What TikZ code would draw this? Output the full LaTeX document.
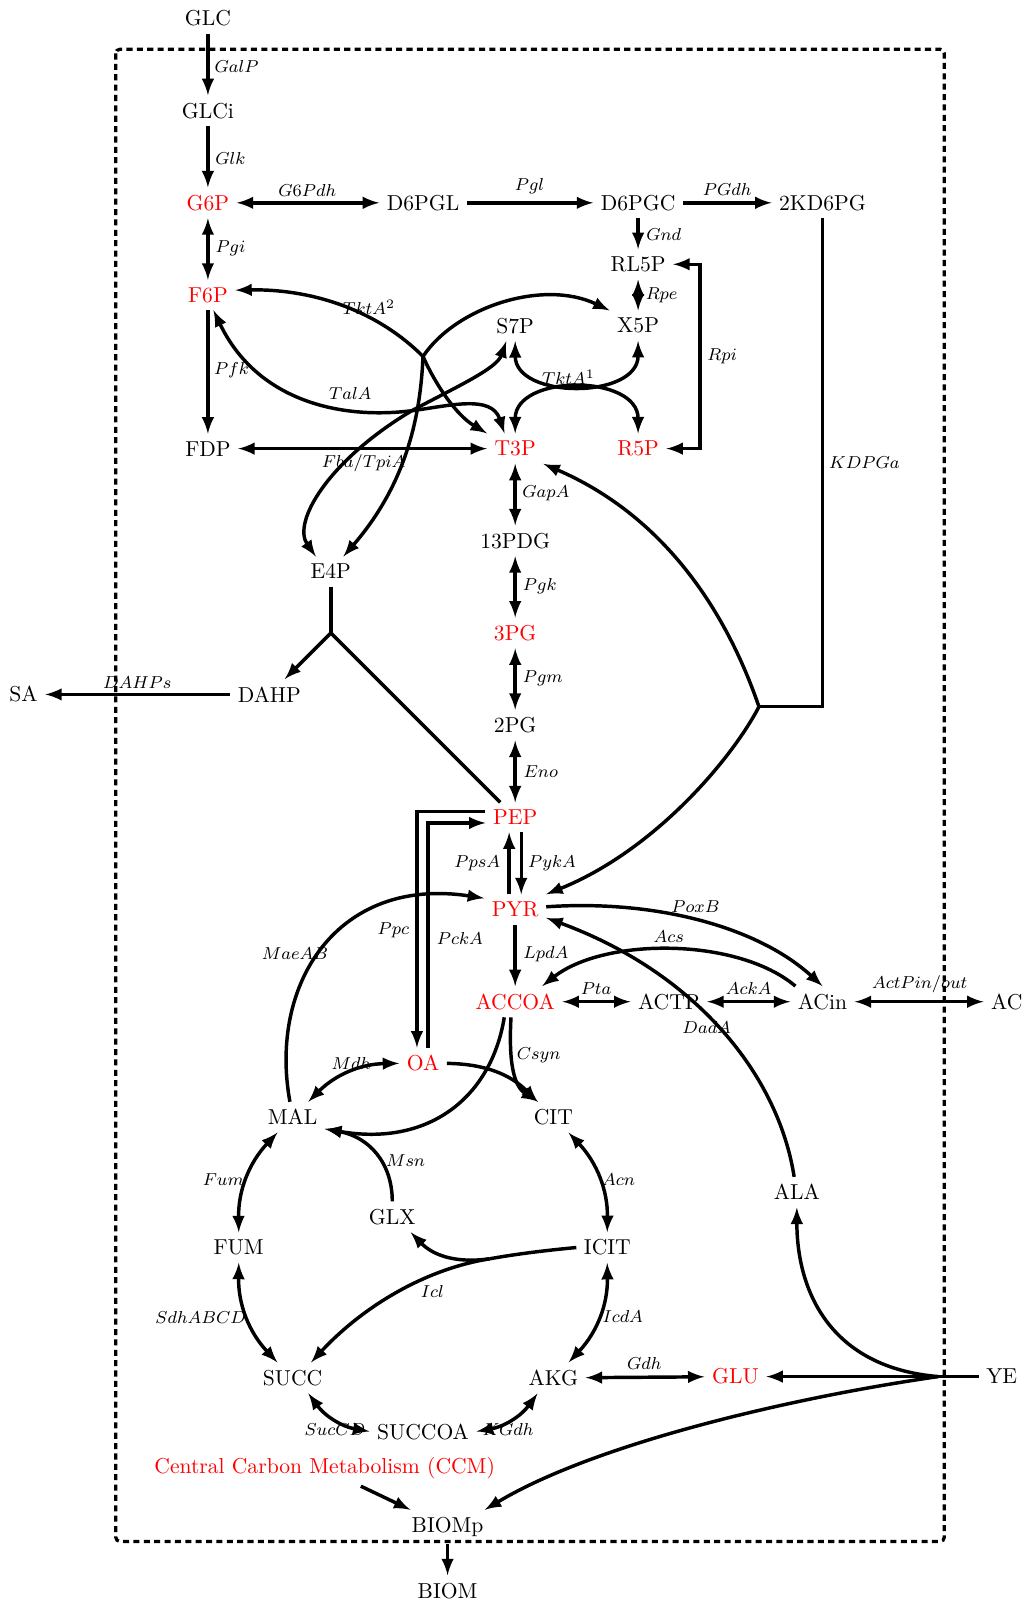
\documentclass[tikz,border=0pt]{standalone}
\usetikzlibrary{calc}
\begin{document}
\begin{tikzpicture}[x=0.0166667cm, y=-0.0166667cm,
  met/.style={inner sep=0.3333em, font=\normalsize},
  redmet/.style={met, text=red},
  lab/.style={font=\footnotesize, inner sep=1pt},
  con/.style={line width=1.6pt},
  arr/.style={con, -latex},
  dbl/.style={con, latex-latex},
  ccmbox/.style={line width=1.5pt, dash pattern=on 2.8pt off 2pt, rounded corners=2pt}]
\useasboundingbox (0,0) rectangle (1000,1568);

% ---------------- metabolites ----------------
\node[met] (GLC) at (203,18) {GLC};
\node[met] (GLCi) at (203,108) {GLCi};
\node[redmet] (G6P) at (203,198) {G6P};
\node[met] (D6PGL) at (413,198) {D6PGL};
\node[met] (D6PGC) at (623,198) {D6PGC};
\node[met] (KD) at (803,198) {2KD6PG};
\node[met] (RL5P) at (623,258) {RL5P};
\node[redmet] (F6P) at (203,288) {F6P};
\node[met] (S7P) at (503,318) {S7P};
\node[met] (X5P) at (623,318) {X5P};
\node[met] (FDP) at (203,438) {FDP};
\node[redmet] (T3P) at (503,438) {T3P};
\node[redmet] (R5P) at (623,438) {R5P};
\node[met] (PDG) at (503,528) {13PDG};
\node[met] (E4P) at (323,558) {E4P};
\node[redmet] (PG3) at (503,618) {3PG};
\node[met] (SA) at (23,678) {SA};
\node[met] (DAHP) at (263,678) {DAHP};
\node[met] (PG2) at (503,708) {2PG};
\node[redmet] (PEP) at (503,798) {PEP};
\node[redmet] (PYR) at (503,888) {PYR};
\node[redmet] (ACCOA) at (503,978) {ACCOA};
\node[met] (ACTP) at (653,978) {ACTP};
\node[met] (ACin) at (803,978) {ACin};
\node[met] (AC) at (983,978) {AC};
\node[redmet] (OA) at (413,1038) {OA};
\node[met] (MAL) at (285.7,1090.7) {MAL};
\node[met] (CIT) at (540.3,1090.7) {CIT};
\node[met] (ALA) at (778,1164) {ALA};
\node[met] (GLX) at (383,1188) {GLX};
\node[met] (FUM) at (233,1218) {FUM};
\node[met] (ICIT) at (593,1218) {ICIT};
\node[met] (SUCC) at (285.7,1345.3) {SUCC};
\node[met] (AKG) at (540.3,1345.3) {AKG};
\node[redmet] (GLU) at (718,1344) {GLU};
\node[met] (YE) at (978,1344) {YE};
\node[met] (SUCCOA) at (413,1398) {SUCCOA};
\node[redmet] (CCM) at (317,1433) {Central Carbon Metabolism (CCM)};
\node[met] (BIOMp) at (437,1491) {BIOMp};
\node[met] (BIOM) at (437,1553) {BIOM};

% ---------------- branch points ----------------
\coordinate (J1) at (413,348);
\coordinate (J2) at (402,401);
\coordinate (J3) at (741,690);
\coordinate (J4) at (478,1229);
\coordinate (J5) at (916,1344);
\coordinate (J6) at (323,618);

% ---------------- cell boundary ----------------
\draw[ccmbox] (113,48) rectangle (922,1505);

% ---------------- upper glycolysis & PPP ----------------
\draw[arr] (GLC) -- (GLCi);
\draw[arr] (GLCi) -- (G6P);
\draw[dbl] (G6P) -- (D6PGL);
\draw[arr] (D6PGL) -- (D6PGC);
\draw[arr] (D6PGC) -- (KD);
\draw[arr] (D6PGC) -- (RL5P);
\draw[dbl] (RL5P) -- (X5P);
\draw[dbl] (G6P) -- (F6P);
\draw[arr] (F6P) -- (FDP);
\draw[dbl] (FDP) -- (T3P);
\draw[dbl] (RL5P.east) -- ++(26,0) |- (R5P.east);

% KDPGa
\draw[con] (KD.south) |- (J3);
\draw[arr] (J3) .. controls (705,585) and (640,500) .. (T3P.south east);
\draw[arr] (J3) .. controls (715,740) and (640,830) .. (PYR.north east);

% TktA^2
\draw[arr] (J1) .. controls (365,300) and (300,282) .. (F6P.10);
\draw[arr] (J1) .. controls (445,300) and (530,272) .. (X5P.north west);
\draw[arr] (J1) .. controls (425,375) and (445,405) .. (T3P.north west);
\draw[arr] (J1) .. controls (410,420) and (390,480) .. (E4P.50);

% TalA
\draw[dbl] (F6P.-70) .. controls (250,390) and (330,410) .. (J2) .. controls (440,396) and (480,385) .. (T3P.125);
\draw[dbl] (E4P.135) .. controls (285,510) and (320,450) .. (J2) .. controls (445,378) and (485,360) .. (S7P.-120);

% TktA^1
\draw[dbl] (S7P.south) .. controls (503,390) and (623,390) .. (X5P.south);
\draw[dbl] (T3P.north) .. controls (503,365) and (623,365) .. (R5P.north);

% lower glycolysis
\draw[dbl] (T3P) -- (PDG);
\draw[dbl] (PDG) -- (PG3);
\draw[dbl] (PG3) -- (PG2);
\draw[dbl] (PG2) -- (PEP);

% DAHP
\draw[con] (E4P) -- (J6);
\draw[arr] (J6) -- (DAHP);
\draw[con] (J6) -- (PEP);
\draw[arr] (DAHP) -- (SA);

% PEP / PYR / OA
\draw[arr] ([xshift=2.8pt]PEP.south) -- ([xshift=2.8pt]PYR.north);
\draw[arr] ([xshift=-2.8pt]PYR.north) -- ([xshift=-2.8pt]PEP.south);
\draw[arr] ([yshift=2.6pt]PEP.west) -| ([xshift=-2.8pt]OA.north);
\draw[arr] ([xshift=2.4pt]OA.north) |- ([yshift=-2.6pt]PEP.west);
\draw[arr] (PYR) -- (ACCOA);

% acetate
\draw[dbl] (ACCOA) -- (ACTP);
\draw[dbl] (ACTP) -- (ACin);
\draw[dbl] (ACin) -- (AC);
\draw[arr] (PYR.5) .. controls (640,878) and (740,905) .. (ACin.north);
\draw[arr] (ACin.150) .. controls (720,915) and (590,915) .. (ACCOA.30);
\draw[arr] (ALA.100) .. controls (760,1050) and (680,950) .. (PYR.-15);
\draw[arr] (MAL.100) .. controls (262,960) and (330,855) .. (PYR.160);

% TCA cycle
\draw[dbl] (MAL) to[bend left=22] (OA);
\draw[arr] (OA) to[bend left=22] (CIT);
\draw[dbl] (CIT) to[bend left=22] (ICIT);
\draw[dbl] (ICIT) to[bend left=22] (AKG);
\draw[dbl] (AKG) to[bend left=22] (SUCCOA);
\draw[dbl] (SUCCOA) to[bend left=22] (SUCC);
\draw[dbl] (SUCC) to[bend left=22] (FUM);
\draw[dbl] (FUM) to[bend left=22] (MAL);
\draw[arr] (ACCOA.-105) .. controls (496,1045) and (504,1062) .. (CIT.135);
\draw[arr] (ACCOA.-125) .. controls (480,1070) and (420,1120) .. (MAL.-20);
\draw[arr] (GLX.north) .. controls (383,1135) and (360,1110) .. (MAL.-20);

% glyoxylate shunt (Icl)
\draw[con] (ICIT.west) .. controls (530,1221) and (500,1225) .. (J4);
\draw[arr] (J4) .. controls (450,1233) and (425,1228) .. (GLX.-40);
\draw[arr] (J4) .. controls (410,1240) and (350,1280) .. (SUCC.40);

% yeast extract
\draw[con] (YE) -- (J5);
\draw[arr] (J5) -- (GLU);
\draw[arr] (J5) .. controls (810,1335) and (778,1260) .. (ALA.south);
\draw[arr] (J5) .. controls (770,1365) and (580,1410) .. (BIOMp.25);
\draw[dbl] (AKG) -- (GLU);

% biomass
\draw[arr] (CCM.-27) -- (BIOMp.155);
\draw[arr] (BIOMp) -- (BIOM);

% ---------------- enzyme labels ----------------
\node[lab] (lGalP) at (231,65) {$GalP$};
\node[lab] (lGlk) at (225,155) {$Glk$};
\node[lab] (lG6Pdh) at (300,186) {$G6Pdh$};
\node[lab] (lPgl) at (517,182) {$Pgl$};
\node[lab] (lPGdh) at (710,185) {$PGdh$};
\node[lab] (lGnd) at (648,229) {$Gnd$};
\node[lab] (lPgi) at (225,242) {$Pgi$};
\node[lab] (lRpe) at (646,288) {$Rpe$};
\node[lab] (lTktA2) at (360,300) {$TktA^2$};
\node[lab] (lRpi) at (705,348) {$Rpi$};
\node[lab] (lPfk) at (226,361) {$Pfk$};
\node[lab] (lTktA1) at (555,368) {$TktA^1$};
\node[lab] (lTalA) at (342,384) {$TalA$};
\node[lab] (lFba) at (355,452) {$Fba/TpiA$};
\node[lab] (lKDPGa) at (844,452) {$KDPGa$};
\node[lab] (lGapA) at (533,482) {$GapA$};
\node[lab] (lPgk) at (527,572) {$Pgk$};
\node[lab] (lPgm) at (530,662) {$Pgm$};
\node[lab] (lDAHPs) at (134,666) {$DAHPs$};
\node[lab] (lEno) at (528,753) {$Eno$};
\node[lab] (lPpsA) at (466,843) {$PpsA$};
\node[lab] (lPykA) at (539,843) {$PykA$};
\node[lab] (lPoxB) at (679,885) {$PoxB$};
\node[lab] (lPpc) at (384,908) {$Ppc$};
\node[lab] (lPckA) at (449,916) {$PckA$};
\node[lab] (lAcs) at (653,914) {$Acs$};
\node[lab] (lMaeAB) at (288,931) {$MaeAB$};
\node[lab] (lLpdA) at (533,932) {$LpdA$};
\node[lab] (lActP) at (898,961) {$ActPin/out$};
\node[lab] (lPta) at (582,965) {$Pta$};
\node[lab] (lAckA) at (731,965) {$AckA$};
\node[lab] (lDadA) at (690,1003) {$DadA$};
\node[lab] (lCsyn) at (526,1030) {$Csyn$};
\node[lab] (lMdh) at (343,1038) {$Mdh$};
\node[lab] (lMsn) at (396,1133) {$Msn$};
\node[lab] (lFum) at (218,1152) {$Fum$};
\node[lab] (lAcn) at (604,1152) {$Acn$};
\node[lab] (lIcl) at (422,1261) {$Icl$};
\node[lab] (lSdh) at (196,1286) {$SdhABCD$};
\node[lab] (lIcdA) at (608,1285) {$IcdA$};
\node[lab] (lGdh) at (629,1331) {$Gdh$};
\node[lab] (lSucCD) at (327,1396) {$SucCD$};
\node[lab] (lKGdh) at (496,1396) {$KGdh$};
\end{tikzpicture}
\end{document}
